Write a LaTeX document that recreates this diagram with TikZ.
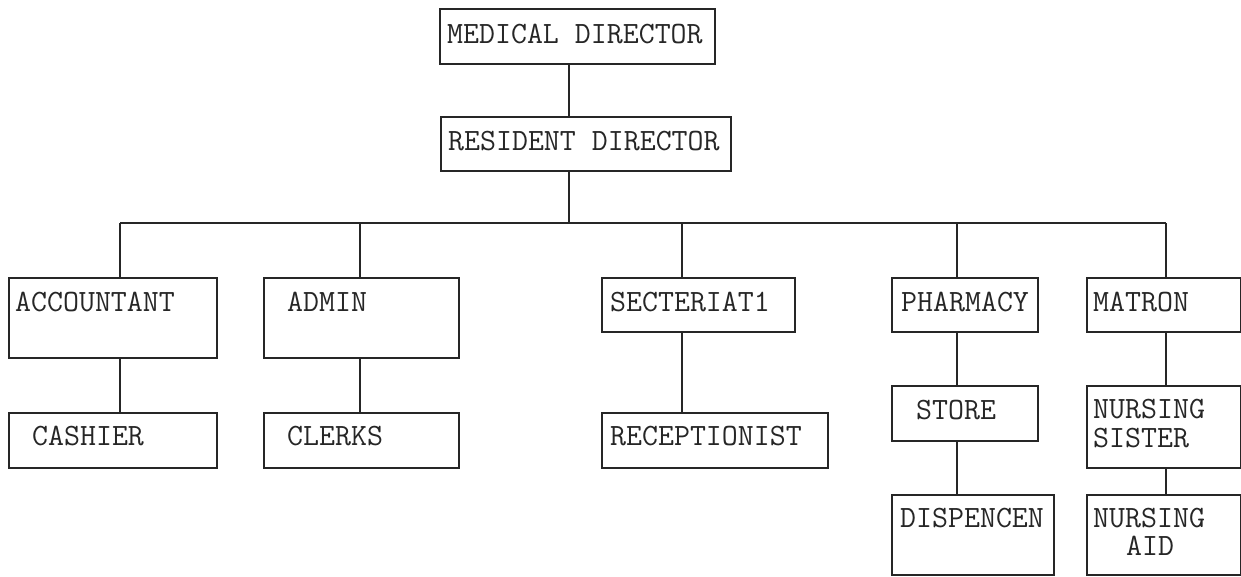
\documentclass[tikz,border=0pt]{standalone}
\begin{document}
\begin{tikzpicture}[x=1pt,y=-1pt,
  box/.style={draw=black!85,line width=1.6pt,rectangle,inner sep=0pt,anchor=north west},
  lbl/.style={anchor=base west,inner sep=0pt,font=\fontsize{31}{31}\selectfont\ttfamily,text=black!85},
  link/.style={draw=black!85,line width=1.6pt}]
\useasboundingbox (0,0) rectangle (1241,576);
% boxes
\node[box,minimum width=275pt,minimum height=55pt] (md) at (439,8) {};
\node[box,minimum width=290pt,minimum height=54pt] (rd) at (440,116) {};
\node[box,minimum width=208pt,minimum height=80pt] (acc) at (8,277) {};
\node[box,minimum width=195pt,minimum height=80pt] (adm) at (263,277) {};
\node[box,minimum width=208pt,minimum height=55pt] (cas) at (8,412) {};
\node[box,minimum width=195pt,minimum height=55pt] (clk) at (263,412) {};
\node[box,minimum width=193pt,minimum height=54pt] (sec) at (601,277) {};
\node[box,minimum width=226pt,minimum height=55pt] (rec) at (601,412) {};
\node[box,minimum width=146pt,minimum height=54pt] (pha) at (891,277) {};
\node[box,minimum width=146pt,minimum height=55pt] (sto) at (891,385) {};
\node[box,minimum width=162pt,minimum height=80pt] (dis) at (891,494) {};
\node[box,minimum width=154pt,minimum height=54pt] (mat) at (1086,277) {};
\node[box,minimum width=154pt,minimum height=82pt] (nsi) at (1086,385) {};
\node[box,minimum width=154pt,minimum height=80pt] (nai) at (1086,494) {};
% labels
\node[lbl] at (447,43) {MEDICAL DIRECTOR};
\node[lbl] at (448,150) {RESIDENT DIRECTOR};
\node[lbl] at (15,311) {ACCOUNTANT};
\node[lbl] at (287,311) {ADMIN};
\node[lbl] at (32,445) {CASHIER};
\node[lbl] at (287,445) {CLERKS};
\node[lbl] at (610,311) {SECTERIAT1};
\node[lbl] at (610,445) {RECEPTIONIST};
\node[lbl] at (901,311) {PHARMACY};
\node[lbl] at (916,419) {STORE};
\node[lbl] at (900,527) {DISPENCEN};
\node[lbl] at (1093,311) {MATRON};
\node[lbl] at (1093,418) {NURSING};
\node[lbl] at (1093,447) {SISTER};
\node[lbl] at (1093,527) {NURSING};
\node[lbl] at (1126,555) {AID};
% connectors
\coordinate (bus) at (569,223);
\path[link] (md.south -| bus) -- (rd.north -| bus);
\path[link] (rd.south -| bus) -- (bus);
\coordinate (busL) at (120,223);
\coordinate (busA) at (360,223);
\coordinate (busS) at (682,223);
\coordinate (busP) at (957,223);
\coordinate (busM) at (1166,223);
\path[link] (busL) -- (busM);
\path[link] (busL) -- (acc.north -| busL);
\path[link] (busA) -- (adm.north -| busA);
\path[link] (busS) -- (sec.north -| busS);
\path[link] (busP) -- (pha.north -| busP);
\path[link] (busM) -- (mat.north -| busM);
\path[link] (acc.south -| busL) -- (cas.north -| busL);
\path[link] (adm.south -| busA) -- (clk.north -| busA);
\path[link] (sec.south -| busS) -- (rec.north -| busS);
\path[link] (pha.south -| busP) -- (sto.north -| busP);
\path[link] (sto.south -| busP) -- (dis.north -| busP);
\path[link] (mat.south -| busM) -- (nsi.north -| busM);
\path[link] (nsi.south -| busM) -- (nai.north -| busM);
\end{tikzpicture}
\end{document}
